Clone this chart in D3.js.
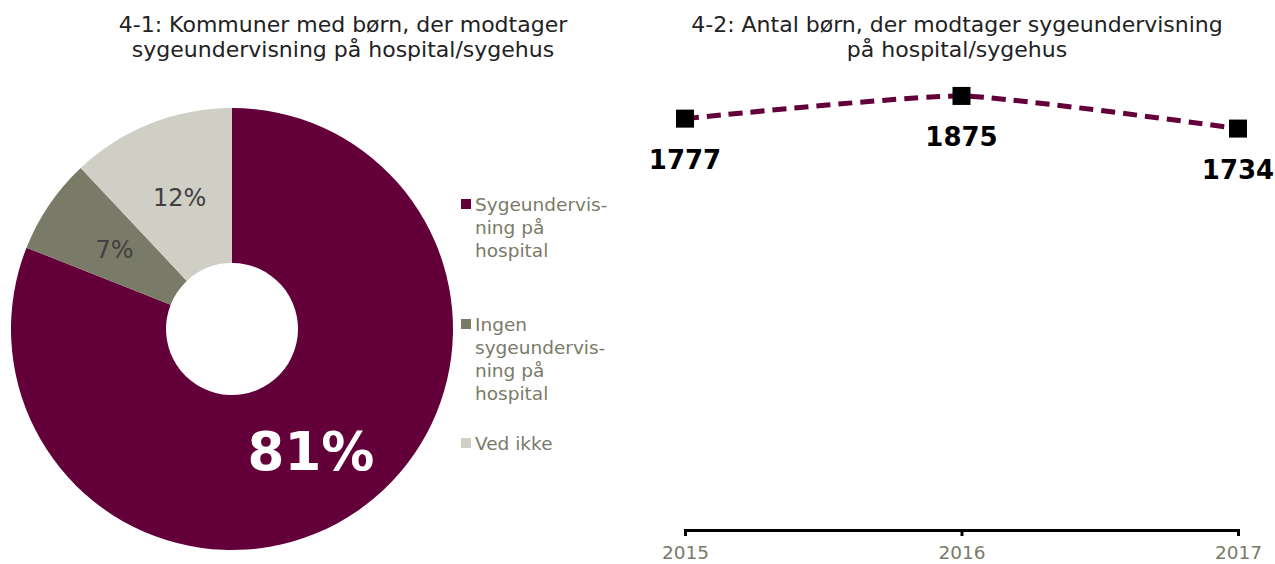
<!DOCTYPE html>
<html>
<head>
<meta charset="utf-8">
<script src="https://cdn.jsdelivr.net/npm/d3@7"></script>
<style>
	body { margin: 0; background: #fff; }
	svg { display: block; font-family: Verdana, "DejaVu Sans", sans-serif; }
</style>
</head>
<body>
<svg id="chart" width="1275" height="564"></svg>
<script>
// 4-1 donut data
var pieLabels = [ 'Sygeundervisning på hospital', 'Ingen sygeundervisning på hospital', 'Ved ikke' ];
var pieValues = [ 81, 7, 12 ];
var legendLines = [
	[ 'Sygeundervis-', 'ning på', 'hospital' ],
	[ 'Ingen', 'sygeundervis-', 'ning på', 'hospital' ],
	[ 'Ved ikke' ]
];

// 4-2 line data
var years = [ '2015', '2016', '2017' ];
var children = [ 1777, 1875, 1734 ];

var colors = [ '#63003a', '#7a7a68', '#cfcfc5' ];

var svg = d3.select( '#chart' );

// ---- left: donut ----
var title1 = svg.append( 'text' )
	.attr( 'x', 343 )
	.attr( 'y', 32 )
	.attr( 'text-anchor', 'middle' )
	.attr( 'fill', '#222' )
	.style( 'font-size', '22px' );
title1.append( 'tspan' ).attr( 'x', 343 ).text( '4-1: Kommuner med børn, der modtager' );
title1.append( 'tspan' ).attr( 'x', 343 ).attr( 'dy', 25 ).text( 'sygeundervisning på hospital/sygehus' );

var pie = d3.pie().sort( null ).value( function( d ) {
	return d;
} );
var arc = d3.arc().innerRadius( 66 ).outerRadius( 221 );
var labelArc = d3.arc().innerRadius( 142 ).outerRadius( 142 );

var g1 = svg.append( 'g' ).attr( 'transform', 'translate(232,329)' );
var arcs = pie( pieValues );

g1.selectAll( 'path' )
	.data( arcs )
	.enter()
	.append( 'path' )
	.attr( 'fill', function( d, i ) {
		return colors[ i ];
	} )
	.attr( 'd', arc );

g1.selectAll( 'text' )
	.data( arcs )
	.enter()
	.append( 'text' )
	.attr( 'transform', function( d, i ) {
		// the big slice label sits low-right inside the ring
		var c = i === 0 ? [ 79, 122 ] : labelArc.centroid( d );
		return 'translate(' + c + ')';
	} )
	.attr( 'text-anchor', 'middle' )
	.attr( 'dy', '0.36em' )
	.attr( 'fill', function( d, i ) {
		return i === 0 ? '#fff' : '#404040';
	} )
	.style( 'font-size', function( d, i ) {
		return i === 0 ? '53px' : '24px';
	} )
	.style( 'font-weight', function( d, i ) {
		return i === 0 ? 'bold' : 'normal';
	} )
	.text( function( d ) {
		return d.data + '%';
	} );

var legendY = [ 204, 324, 443 ];
var legend = svg.append( 'g' );
legendLines.forEach( function( lines, i ) {
	legend.append( 'rect' )
		.attr( 'x', 461 )
		.attr( 'y', legendY[ i ] - 5 )
		.attr( 'width', 10 )
		.attr( 'height', 10 )
		.attr( 'fill', colors[ i ] );
	var t = legend.append( 'text' )
		.attr( 'x', 475 )
		.attr( 'y', legendY[ i ] )
		.attr( 'fill', '#7a7a68' )
		.style( 'font-size', '18.5px' );
	lines.forEach( function( l, j ) {
		t.append( 'tspan' )
			.attr( 'x', 475 )
			.attr( 'dy', j === 0 ? '0.36em' : 23 )
			.text( l );
	} );
} );

// ---- right: line chart ----
var title2 = svg.append( 'text' )
	.attr( 'x', 957 )
	.attr( 'y', 32 )
	.attr( 'text-anchor', 'middle' )
	.attr( 'fill', '#222' )
	.style( 'font-size', '22px' );
title2.append( 'tspan' ).attr( 'x', 957 ).text( '4-2: Antal børn, der modtager sygeundervisning' );
title2.append( 'tspan' ).attr( 'x', 957 ).attr( 'dy', 25 ).text( 'på hospital/sygehus' );

var x = d3.scalePoint().domain( years ).range( [ 685, 1238 ] );
var y = d3.scaleLinear().domain( [ 0, 2000 ] ).range( [ 530, 67 ] );

var axis = svg.append( 'g' )
	.attr( 'transform', 'translate(0,530)' )
	.call( d3.axisBottom( x ).tickSize( 6 ).tickPadding( 10 ) );
axis.select( '.domain' ).attr( 'stroke', '#000' ).attr( 'stroke-width', 3 );
axis.selectAll( '.tick line' ).attr( 'stroke', '#000' ).attr( 'stroke-width', 3 );
axis.selectAll( '.tick text' )
	.attr( 'fill', '#7a7a68' )
	.style( 'font-size', '18.5px' )
	.style( 'font-family', 'Verdana, "DejaVu Sans", sans-serif' );

var line = d3.line()
	.x( function( d, i ) {
		return x( years[ i ] );
	} )
	.y( function( d ) {
		return y( d );
	} )
	.curve( d3.curveCardinal.tension( 0.5 ) );

svg.append( 'path' )
	.datum( children )
	.attr( 'fill', 'none' )
	.attr( 'stroke', '#63003a' )
	.attr( 'stroke-width', 5 )
	.attr( 'stroke-dasharray', '14,8' )
	.attr( 'd', line );

svg.selectAll( '.pt' )
	.data( children )
	.enter()
	.append( 'rect' )
	.attr( 'class', 'pt' )
	.attr( 'x', function( d, i ) {
		return x( years[ i ] ) - 9;
	} )
	.attr( 'y', function( d ) {
		return y( d ) - 9;
	} )
	.attr( 'width', 18 )
	.attr( 'height', 18 )
	.attr( 'fill', '#000' );

svg.selectAll( '.val' )
	.data( children )
	.enter()
	.append( 'text' )
	.attr( 'class', 'val' )
	.attr( 'x', function( d, i ) {
		return x( years[ i ] );
	} )
	.attr( 'y', function( d ) {
		return y( d ) + 41;
	} )
	.attr( 'dy', '0.36em' )
	.attr( 'text-anchor', 'middle' )
	.attr( 'fill', '#000' )
	.style( 'font-size', '26px' )
	.style( 'font-weight', 'bold' )
	.text( function( d ) {
		return d;
	} );
</script>
</body>
</html>
